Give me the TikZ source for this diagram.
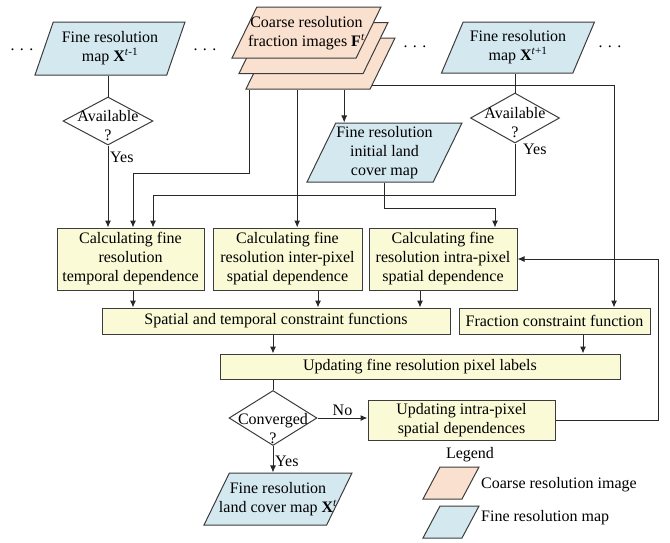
\documentclass[tikz,border=0pt]{standalone}
\usepackage{fontspec}
\setmainfont{Liberation Serif}
\usetikzlibrary{positioning,arrows.meta,calc,shapes.geometric}
\definecolor{boxfill}{RGB}{250,250,214}
\definecolor{finefill}{RGB}{212,232,240}
\definecolor{coarsefill}{RGB}{250,224,206}
\definecolor{edge}{RGB}{60,60,60}
\definecolor{wirecol}{RGB}{40,40,40}
\tikzset{
    every node/.style={font=\fontsize{16}{19}\selectfont},
    procbox/.style={draw=edge, fill=boxfill, line width=1pt, align=center, inner sep=0pt},
    finemap/.style={trapezium, trapezium stretches body, trapezium left angle=64, trapezium right angle=116, draw=edge, fill=finefill, line width=1pt, inner sep=0pt, text depth=0pt},
    coarseimg/.style={finemap, fill=coarsefill},
    decision/.style={diamond, draw=edge, fill=white, line width=1pt, inner sep=0pt},
    txt/.style={align=center, inner sep=0pt},
    arrow/.style={-{Latex[length=7pt,width=6pt]}, line width=1pt, draw=wirecol},
    link/.style={line width=1pt, draw=wirecol}
}

\begin{document}
\begin{tikzpicture}[x=1pt,y=-1pt]
\useasboundingbox (0,0) rectangle (670,542);
% inputs
\node (dots1) at (22,50) {. . .};
\node (dots2) at (205,50) {. . .};
\node (dots3) at (415,47) {. . .};
\node (dots4) at (610,47) {. . .};
\node[finemap, trapezium left angle=71, trapezium right angle=109, minimum width=150pt, text height=53pt,
    label={[txt]center:Fine resolution\\map \textbf{X}\textsuperscript{\textit{t}-1}}] (mapprev) at (110,48.5) {};
\node[finemap, trapezium left angle=67, trapezium right angle=113, minimum width=153pt, text height=51pt,
    label={[txt]center:Fine resolution\\map \textbf{X}\textsuperscript{\textit{t}+1}}] (mapnext) at (518,47.5) {};
\node[coarseimg, minimum width=149pt, text height=51pt] (coarse3) at (320.5,63.5) {};
\node[coarseimg, minimum width=149pt, text height=51pt] (coarse2) at (313.5,48) {};
\node[coarseimg, minimum width=149pt, text height=51pt,
    label={[txt, yshift=-1pt]center:Coarse resolution\\fraction images \textbf{F}\textsuperscript{\textit{t}}}] (coarse1) at (306.5,32.5) {};
\node[decision, minimum width=90pt, minimum height=48pt,
    label={[txt, yshift=-5pt]center:Available\\?}] (avail1) at (108,121) {};
\node[decision, minimum width=89pt, minimum height=50pt,
    label={[txt, yshift=-5pt]center:Available\\?}] (avail2) at (515,118) {};
\node[below right=6pt and 2pt of avail1.south, inner sep=0pt] (yes1) {Yes};
\node[below right=0pt and 8pt of avail2.south, inner sep=0pt] (yes2) {Yes};
\node[finemap, minimum width=155pt, text height=59pt,
    label={[txt]center:Fine resolution\\initial land\\cover map}] (initmap) at (384.5,152.5) {};
% dependences
\node[procbox, minimum width=147pt, minimum height=62pt] (temporal) at (130.5,259) {Calculating fine\\resolution\\temporal dependence};
\node[procbox, minimum width=149pt, minimum height=62pt] (inter) at (287.5,259) {Calculating fine\\resolution inter-pixel\\spatial dependence};
\node[procbox, minimum width=148pt, minimum height=62pt] (intra) at (443,259) {Calculating fine\\resolution intra-pixel\\spatial dependence};
\node[procbox, minimum width=348pt, minimum height=26pt] (spatial) at (276,321) {Spatial and temporal constraint functions};
\node[procbox, minimum width=191pt, minimum height=26pt] (fraction) at (554.5,321) {Fraction constraint function};
\node[procbox, minimum width=400pt, minimum height=25pt] (update) at (420,366.5) {Updating fine resolution pixel labels};
\node[decision, minimum width=88pt, minimum height=55pt,
    label={[txt, yshift=-11pt]center:Converged\\?}] (conv) at (273,418) {};
\node[procbox, minimum width=187pt, minimum height=40pt] (updintra) at (461.5,420) {Updating intra-pixel\\spatial dependences};
\node[below right=10pt and 2pt of conv.south, inner sep=0pt] (yes3) {Yes};
\node[finemap, minimum width=148pt, text height=52pt,
    label={[txt]center:Fine resolution\\land cover map \textbf{X}\textsuperscript{\textit{t}}}] (final) at (278,499) {};
% legend
\node (legend) at (470,455) {Legend};
\node[coarseimg, trapezium left angle=62, trapezium right angle=118, minimum width=56pt, text height=32pt] (legcoarse) at (451,483) {};
\node[finemap, trapezium left angle=62, trapezium right angle=118, minimum width=56pt, text height=32pt] (legfine) at (451,522) {};
\node[anchor=west, inner sep=0pt] (legcoarsetxt) at (481,485) {Coarse resolution image};
\node[anchor=west, inner sep=0pt] (legfinetxt) at (481,518) {Fine resolution map};
% connectors
\draw[link] (avail1.north |- mapprev.south) -- (avail1.north);
\draw[link] (avail2.north |- mapnext.south) -- (avail2.north);
\draw[arrow] (avail1.south) -- (avail1.south |- temporal.north);
\draw[arrow] (avail2.south) -- ++(0,52) -| ([xshift=22.5pt]temporal.north);
\draw[arrow] ($(coarse3.bottom left corner)+(4,0)$) -- ++(0,84) -| ([xshift=2.5pt]temporal.north);
\draw[arrow] ($(coarse3.bottom left corner)+(52,0)$) coordinate (c2) -- (c2 |- inter.north);
\draw[arrow] ($(coarse3.bottom left corner)+(99,0)$) coordinate (c3) -- (c3 |- initmap.north);
\draw[arrow] ($(coarse3.bottom right corner)+(2,-4)$) -| ([xshift=59.5pt]fraction.north);
\draw[arrow] (initmap.south) -- ++(0,26) -| ([xshift=52pt]intra.north);
\draw[arrow] ([xshift=2.5pt]temporal.south) coordinate (t1) -- (t1 |- spatial.north);
\draw[arrow] ([xshift=30.5pt]inter.south) coordinate (t2) -- (t2 |- spatial.north);
\draw[arrow] ([xshift=-23pt]intra.south) coordinate (t3) -- (t3 |- spatial.north);
\draw[arrow] ([xshift=-3pt]spatial.south) coordinate (s1) -- (s1 |- update.north);
\draw[arrow] ([xshift=28.5pt]fraction.south) coordinate (s2) -- (s2 |- update.north);
\draw[link] (conv.north |- update.south) -- (conv.north);
\draw[arrow] (conv.east) -- node[above=2pt, inner sep=0pt] {No} (conv.east -| updintra.west);
\draw[arrow] (conv.south) -- (conv.south |- final.north);
\draw[arrow] (updintra.east) -- ++(103,0) |- (intra.east);
\end{tikzpicture}
\end{document}
